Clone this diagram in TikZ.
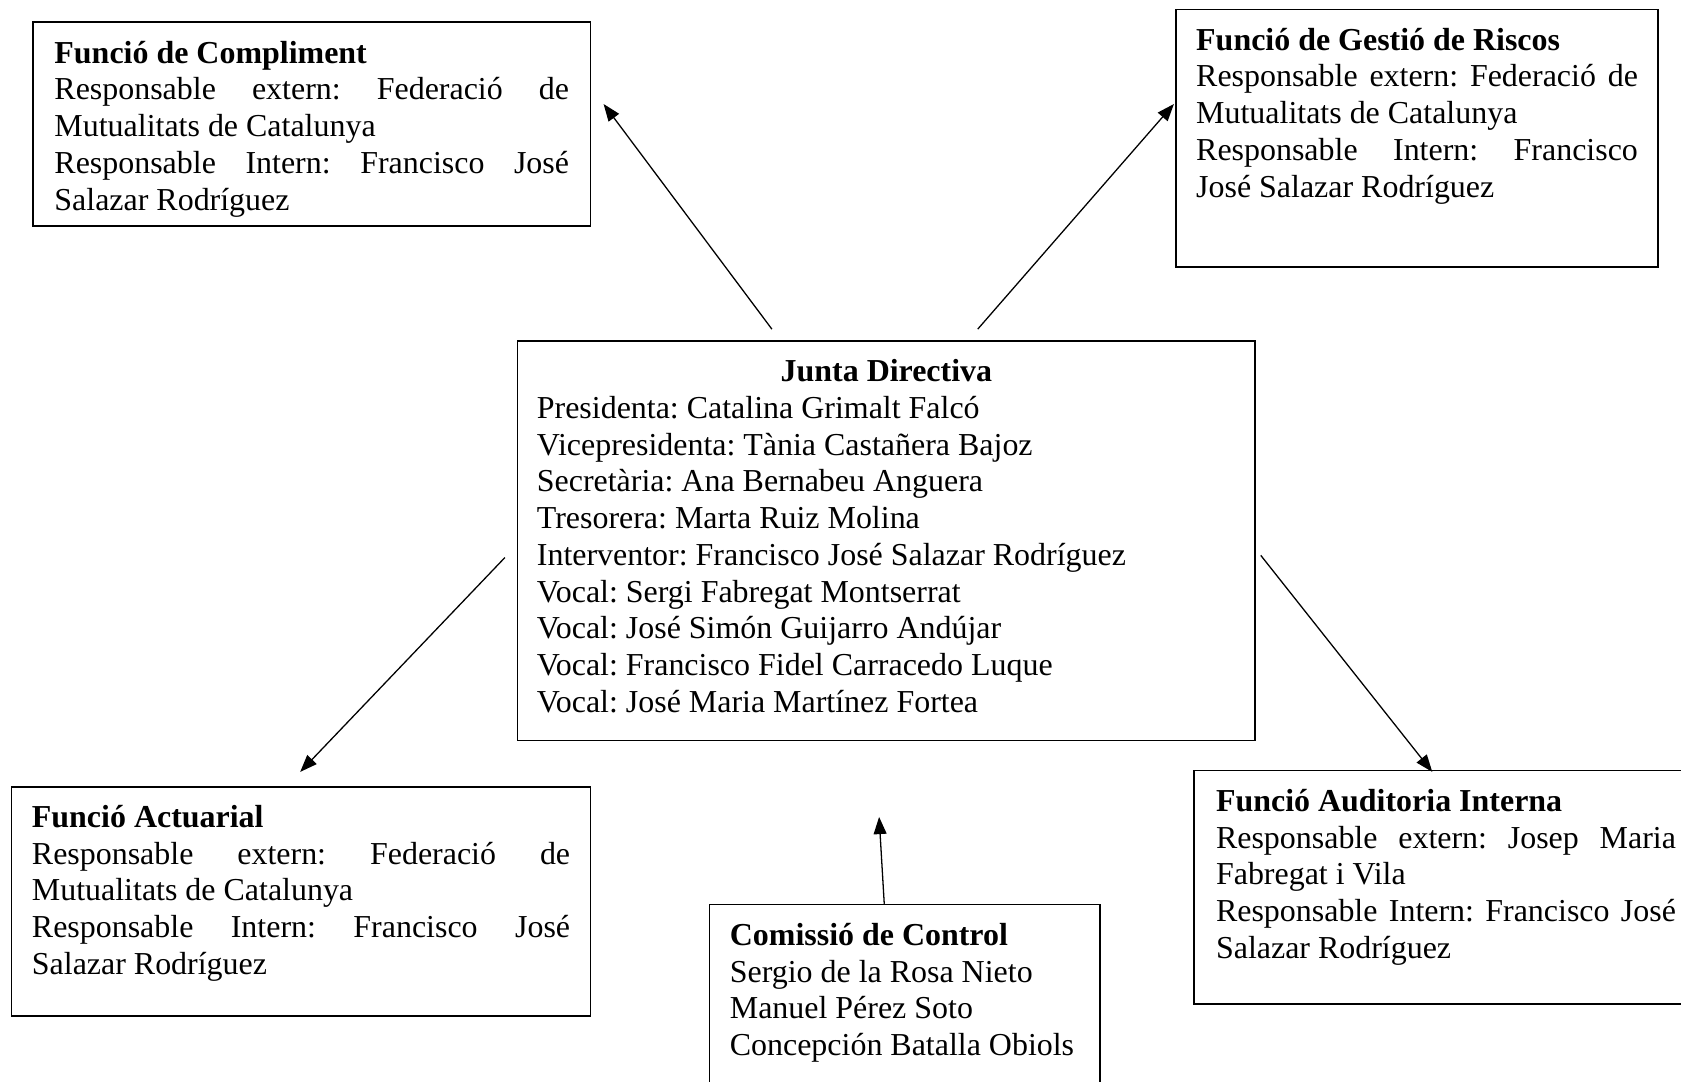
\documentclass[tikz,border=0pt]{standalone}
\usepackage{fontspec}
\setmainfont{Liberation Serif}
\usetikzlibrary{arrows.meta}
\tikzset{
  orgBox/.style={draw, line width=0.8pt, inner sep=0pt, anchor=north west},
  orgLink/.style={-{Triangle[length=8pt,width=6pt]}, line width=0.6pt}
}
\newlength\firstBase
\setlength\firstBase{19pt}
% height, text width, text
\newcommand\boxText[3]{%
  \parbox[c][#1][t]{#2}{\fontsize{14.9}{17.15}\selectfont\frenchspacing\rule{0pt}{\firstBase}#3}}

\begin{document}
\begin{tikzpicture}[x=0.5pt,y=-0.5pt]
    \path[use as bounding box, fill=white] (0,0) rectangle (1568,1009);

    % board
    \node[orgBox, minimum width=344pt] (junta) at (482,317) {\boxText{186.5pt}{326pt}{%
      {\centering\textbf{Junta Directiva}\par}
      Presidenta: Catalina Grimalt Falcó\par
      Vicepresidenta: Tània Castañera Bajoz\par
      Secretària: Ana Bernabeu Anguera\par
      Tresorera: Marta Ruiz Molina\par
      Interventor: Francisco José Salazar Rodríguez\par
      Vocal: Sergi Fabregat Montserrat\par
      Vocal: José Simón Guijarro Andújar\par
      Vocal: Francisco Fidel Carracedo Luque\par
      Vocal: José Maria Martínez Fortea}};

    % key functions
    \node[orgBox, minimum width=260pt] (cmp) at (30,20) {\boxText{95pt}{240pt}{%
      \textbf{Funció de Compliment}\par
      Responsable extern: Federació de\linebreak Mutualitats de Catalunya\par
      Responsable Intern: Francisco José\linebreak Salazar Rodríguez}};
    \node[orgBox, minimum width=225pt] (risk) at (1096,8) {\boxText{120pt}{206pt}{%
      \textbf{Funció de Gestió de Riscos}\par
      Responsable extern: Federació de\linebreak Mutualitats de Catalunya\par
      Responsable Intern: Francisco\linebreak José Salazar Rodríguez}};
    \node[orgBox, minimum width=270pt] (act) at (10,733) {\boxText{107pt}{251pt}{%
      \textbf{Funció Actuarial}\par
      Responsable extern: Federació de\linebreak Mutualitats de Catalunya\par
      Responsable Intern: Francisco José\linebreak Salazar Rodríguez}};
    \node[orgBox, minimum width=235pt] (aud) at (1113,718) {\boxText{109pt}{214.5pt}{%
      \textbf{Funció Auditoria Interna}\par
      Responsable extern: Josep Maria\linebreak Fabregat i Vila\par
      Responsable Intern: Francisco José\linebreak Salazar Rodríguez}};

    % control committee
    \node[orgBox, minimum width=182pt] (ctrl) at (661,843) {\boxText{100pt}{163pt}{%
      \textbf{Comissió de Control}\par
      Sergio de la Rosa Nieto\par
      Manuel Pérez Soto\par
      Concepción Batalla Obiols}};

    % arrow ends
    \coordinate (cmpFoot) at (720,307);
    \coordinate (cmpTip) at (563,97);
    \coordinate (riskFoot) at (912,307);
    \coordinate (riskTip) at (1095,97);
    \coordinate (actFoot) at (471,520);
    \coordinate (actTip) at (280,720);
    \coordinate (audFoot) at (1176,518);
    \coordinate (audTip) at (1336,720);
    \coordinate (ctrlTip) at (820,762);

    \draw[orgLink] (cmpFoot) -- (cmpTip);
    \draw[orgLink] (riskFoot) -- (riskTip);
    \draw[orgLink] (actFoot) -- (actTip);
    \draw[orgLink] (audFoot) -- (audTip);
    \draw[orgLink] ([xshift=-9.5pt]ctrl.north) -- (ctrlTip);
\end{tikzpicture}
\end{document}
